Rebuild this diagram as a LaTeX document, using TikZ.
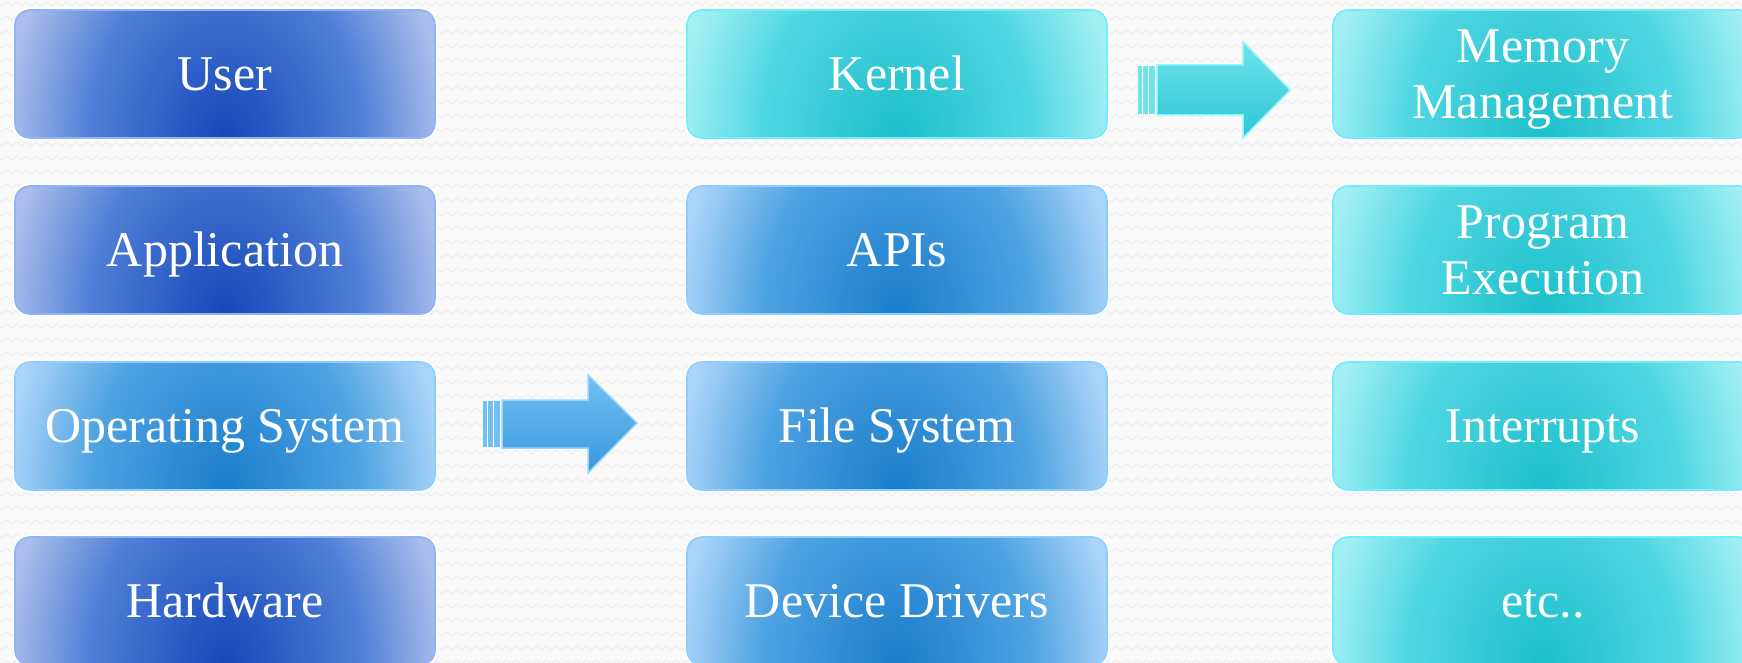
\documentclass[tikz,border=0pt]{standalone}
\usepackage{fontspec}
\setmainfont{Liberation Serif}
\usetikzlibrary{decorations.pathmorphing}

\definecolor{bgc}{HTML}{FAFAFA}
\definecolor{bglinec}{HTML}{EEEEEE}
% deep blue
\definecolor{aC}{HTML}{1547B9}
\definecolor{aM}{HTML}{4F7FD6}
\definecolor{aO}{HTML}{AABDEB}
\definecolor{Aedge}{HTML}{8FB4F5}
% mid blue
\definecolor{bC}{HTML}{1A7DCB}
\definecolor{bM}{HTML}{4FA3E2}
\definecolor{bO}{HTML}{AAD4F8}
\definecolor{Bedge}{HTML}{8CCFFF}
% cyan
\definecolor{cC}{HTML}{1CBFCC}
\definecolor{cM}{HTML}{50D7E2}
\definecolor{cO}{HTML}{A2EFF4}
\definecolor{Cedge}{HTML}{70EEFA}
% arrows
\definecolor{arBt}{HTML}{72C0F3}
\definecolor{arBb}{HTML}{3A97DD}
\definecolor{arBe}{HTML}{94D8FF}
\definecolor{arCt}{HTML}{6EE3EC}
\definecolor{arCb}{HTML}{2CC6D3}
\definecolor{arCe}{HTML}{8CF4FF}

\pgfdeclareradialshading{glowA}{\pgfpoint{0bp}{0bp}}{color(0bp)=(aC); color(30bp)=(aM); color(48bp)=(aO); color(100bp)=(aO)}
\pgfdeclareradialshading{glowB}{\pgfpoint{0bp}{0bp}}{color(0bp)=(bC); color(30bp)=(bM); color(48bp)=(bO); color(100bp)=(bO)}
\pgfdeclareradialshading{glowC}{\pgfpoint{0bp}{0bp}}{color(0bp)=(cC); color(30bp)=(cM); color(48bp)=(cO); color(100bp)=(cO)}

\tikzset{
  bgline/.style={draw=bglinec, line width=1.1pt, decorate,
    decoration={zigzag, segment length=10pt, amplitude=2pt}},
  osbox/.style={rounded corners=15pt, minimum width=420pt, minimum height=128pt,
    inner sep=0pt, align=center, text=white,
    font=\fontsize{50}{56}\selectfont, text height=33pt, text depth=0pt,
    preaction={draw=white, line width=5pt},
    draw=#1edge, line width=1.6pt,
    path picture={\begin{pgfscope}
      \pgftransformshift{\pgfpointanchor{path picture bounding box}{south}}%
      \pgftransformxscale{4.5}\pgftransformyscale{6.0}%
      \pgflowlevelsynccm
      \pgfuseshading{glow#1}\end{pgfscope}}},
  twoline/.style={text height=89pt},
  blockarrow/.style={line width=1.5pt, draw=#1, line join=miter},
  tailstripe/.style={line width=0.8pt, draw=white}
}

\begin{document}
\begin{tikzpicture}[x=1pt,y=-1pt]
\useasboundingbox (0,0) rectangle (1742,663);
\clip (0,0) rectangle (1742,663);
\fill[bgc] (0,0) rectangle (1742,663);
\foreach \yy in {4,18,...,662} \draw[bgline] (-6,\yy) -- (1750,\yy);

% column 1
\node[osbox=A] (user) at (225,74) {User};
\node[osbox=A] (app) at (225,250) {Application};
\node[osbox=B] (os) at (225,426) {Operating System};
\node[osbox=A] (hw) at (225,601) {Hardware};

% column 2
\node[osbox=C] (kernel) at (897,74) {Kernel};
\node[osbox=B] (apis) at (897,250) {APIs};
\node[osbox=B] (fs) at (897,426) {File System};
\node[osbox=B] (dd) at (897,601) {Device Drivers};

% column 3
\node[osbox=C, twoline] (mem) at (1543,74) {Memory\\Management};
\node[osbox=C, twoline] (prog) at (1543,250) {Program\\Execution};
\node[osbox=C] (intr) at (1543,426) {Interrupts};
\node[osbox=C] (etc) at (1543,601) {etc..};

% block arrow: Operating System -> File System
\coordinate (a1) at (483,424);
\begin{scope}[shift={(a1)}]
  \fill[arBt] (0,-23) rectangle (17,23);
  \draw[tailstripe] (4.5,-23) -- (4.5,23);
  \draw[tailstripe] (10.5,-23) -- (10.5,23);
  \draw[tailstripe] (17.5,-23) -- (17.5,23);
  \shade[top color=arBt, bottom color=arBb, blockarrow=arBe]
    (19,-24) -- (105,-24) -- (105,-49) -- (154,-1) -- (105,49) -- (105,24) -- (19,24) -- cycle;
\end{scope}

% block arrow: Kernel -> Memory Management
\coordinate (a2) at (1138,90);
\begin{scope}[shift={(a2)}]
  \fill[arCt] (0,-24) rectangle (17,24);
  \draw[tailstripe] (4.5,-24) -- (4.5,24);
  \draw[tailstripe] (10.5,-24) -- (10.5,24);
  \draw[tailstripe] (17.5,-24) -- (17.5,24);
  \shade[top color=arCt, bottom color=arCb, blockarrow=arCe]
    (19,-25) -- (105,-25) -- (105,-48) -- (152,0) -- (105,48) -- (105,25) -- (19,25) -- cycle;
\end{scope}
\end{tikzpicture}
\end{document}
